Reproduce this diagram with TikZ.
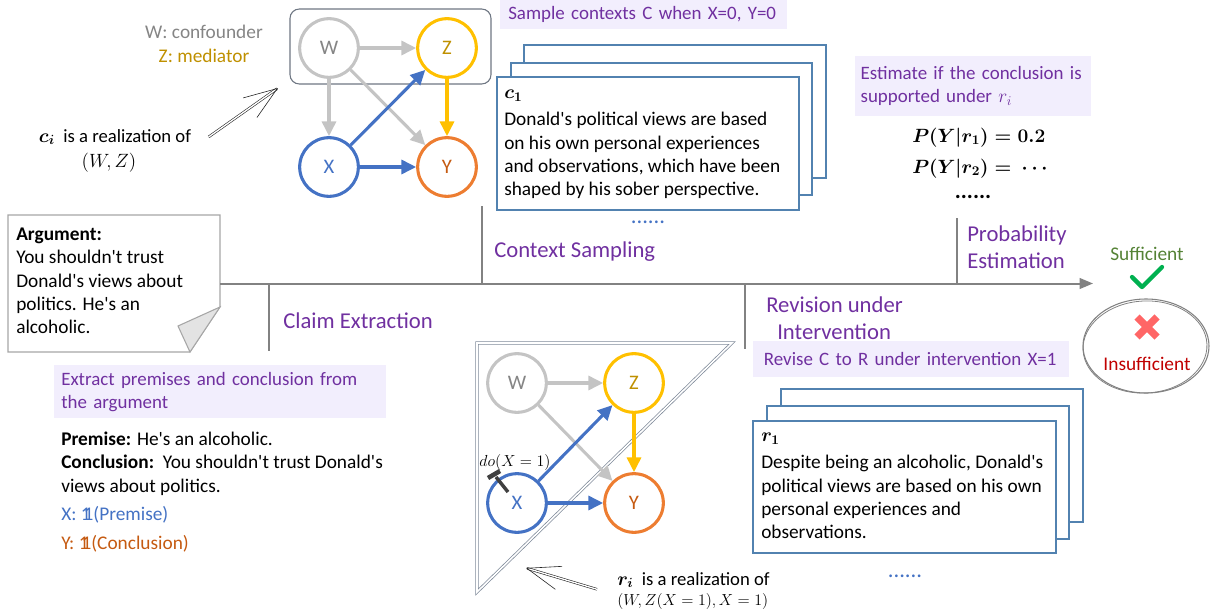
\documentclass[tikz,border=0pt]{standalone}
\usepackage{fontspec}
\setmainfont{Carlito}[Ligatures=TeXOff]
\usepackage{amsmath}
\usetikzlibrary{arrows.meta}

\newcommand{\indic}{\ensuremath{\mathrm{1}\mkern-6.6mu\mathrm{1}}}

\definecolor{stagepurple}{HTML}{7030A0}
\definecolor{lavender}{HTML}{F2EEFD}
\definecolor{nodegray}{HTML}{C4C4C4}
\definecolor{labelgray}{HTML}{858585}
\definecolor{gold}{HTML}{FFC000}
\definecolor{goldtext}{HTML}{BF9000}
\definecolor{xblue}{HTML}{4472C4}
\definecolor{yorange}{HTML}{ED7D31}
\definecolor{orangetext}{HTML}{C55A11}
\definecolor{cardblue}{HTML}{5282B0}
\definecolor{cardgray}{HTML}{A6A6A6}
\definecolor{foldgray}{HTML}{E3E3E3}
\definecolor{boxgray}{HTML}{6E7682}
\definecolor{linegray}{HTML}{828282}
\definecolor{sketchgray}{HTML}{7F8A99}
\definecolor{suffgreen}{HTML}{548235}
\definecolor{checkgreen}{HTML}{00B050}
\definecolor{insuffred}{HTML}{C00000}
\definecolor{crossred}{HTML}{FF6666}

\tikzset{
  var/.style={circle, draw, line width=2.3pt, minimum size=44pt, inner sep=0pt,
    font=\fontsize{15.5}{18}\selectfont},
  causal/.style={-{Triangle[length=11pt,width=10.5pt]}, line width=2.3pt},
  card/.style={draw=cardblue, line width=0.9pt, fill=white},
  body/.style={inner sep=0pt, align=left, font=\fontsize{14.5}{17.5}\selectfont},
  hint/.style={fill=lavender, text=stagepurple, inner xsep=4pt, inner ysep=0pt,
    align=left, font=\fontsize{14.2}{17.25}\selectfont},
  stage/.style={text=stagepurple, inner sep=0pt, align=left,
    font=\fontsize{17}{20}\selectfont},
  timeline/.style={draw=linegray, line width=1.5pt},
  sketch/.style={draw=black!85, double, double distance=1pt, line width=0.45pt,
    -{Straight Barb[length=25pt,width=18pt]}},
  sketchline/.style={draw=sketchgray, double, double distance=1.2pt, line width=0.55pt},
  dots/.style={inner sep=0pt, font=\fontsize{17}{20}\selectfont},
  hammer/.style={draw=black!75, line width=2.6pt},
}

\begin{document}
\begin{tikzpicture}[x=0.75pt,y=-0.75pt]
  \useasboundingbox (0,0) rectangle (1210,614);

  % causal graph of the context
  \node[anchor=base, text=labelgray, inner sep=0pt, font=\fontsize{14.5}{17}\selectfont] (wrole) at (204,38) {W: confounder};
  \node[anchor=base, text=goldtext, inner sep=0pt, font=\fontsize{14.5}{17}\selectfont] (zrole) at (204,62) {Z: mediator};
  \draw[boxgray, rounded corners=7pt, line width=0.8pt] (290,9) rectangle (491,84);
  \coordinate (wzbox) at (278,88);
  \node[var, draw=nodegray, text=labelgray] (w) at (329,48) {W};
  \node[var, draw=gold, text=goldtext] (z) at (447,48) {Z};
  \node[var, draw=xblue, text=xblue] (x) at (329,167) {X};
  \node[var, draw=yorange, text=orangetext] (y) at (447,167) {Y};
  \draw[causal, nodegray] (w) -- (z);
  \draw[causal, nodegray] (w) -- (x);
  \draw[causal, nodegray] (w) -- (y);
  \draw[causal, gold] (z) -- (y);
  \draw[causal, xblue] (x) -- (z);
  \draw[causal, xblue] (x) -- (y);

  \node[body, anchor=base, font=\fontsize{14}{17}\selectfont] (ci) at (115,142) {$\boldsymbol{c_i}$\ \ is a realization of};
  \node[body, anchor=base, font=\fontsize{14}{17}\selectfont] (ciwz) at (109,167) {$(W,Z)$};
  \draw[sketch] ([xshift=13pt]ci.east) -- (wzbox);

  % sampled contexts
  \node[hint, anchor=north west, inner xsep=6pt, text width=203.25pt, minimum height=21.75pt] (samplehint) at (500,0) {Sample contexts C when X=0, Y=0};
  \draw[card] (524,45) rectangle (826,178);
  \draw[card] (511,63) rectangle (812,195);
  \draw[card] (497,77) rectangle (799,210);
  \node[body, anchor=north west] (c1) at (504,82) {\strut$\boldsymbol{c_1}$\\[2.8pt]Donald's political views are based\\on his own personal experiences\\and observations, which have been\\shaped by his sober perspective.};
  \node[dots, text=xblue] (cdots) at (648,222) {......};

  % probability estimation
  \node[hint, anchor=north west, text width=169pt, minimum height=45pt] (estimatehint) at (855,56) {Estimate if the conclusion is\\supported under $r_i$};
  \node[anchor=base west, inner sep=0pt, font=\fontsize{13.8}{16}\selectfont] (p1) at (912,142) {$\boldsymbol{P(Y|r_1)=0.2}$};
  \node[anchor=base west, inner sep=0pt, font=\fontsize{13.8}{16}\selectfont] (p2) at (912,173) {$\boldsymbol{P(Y|r_2)=\ \cdots}$};
  \node[dots] (pdots) at (973,197) {\textbf{......}};

  % argument card
  \draw[cardgray, fill=white, line width=0.8pt] (8,215) -- (220,215) -- (220,307) -- (190,352) -- (8,352) -- cycle;
  \draw[cardgray, fill=foldgray, line width=0.8pt] (220,307) -- (178,326) -- (190,352) -- cycle;
  \node[body, anchor=north west] (arg) at (16,224) {\strut\textbf{Argument:}\\You shouldn't trust\\Donald's views about\\politics. He's an\\alcoholic.};

  % timeline
  \coordinate (start) at (220,283.5);
  \coordinate (goal) at (1093,283.5);
  \draw[timeline, -{Triangle[length=10pt,width=8pt]}] (start) -- (goal);
  \draw[timeline] (269,283.5) -- (269,351);
  \draw[timeline] (482,283.5) -- (482,206);
  \draw[timeline] (745,283.5) -- (745,349);
  \draw[timeline] (957,283.5) -- (957,218);
  \node[stage, anchor=base west] (claim) at (283,328) {Claim Extraction};
  \node[stage, anchor=base west] (context) at (494,257) {Context Sampling};
  \node[stage, anchor=north west] (revision) at (766,294) {\strut Revision under\\\hspace{8.25pt}Intervention};
  \node[stage, anchor=north west] (probability) at (967,223) {\strut Probability\\Estimation};

  % claim extraction
  \node[hint, anchor=north west, inner xsep=5.25pt, text width=238.5pt, minimum height=39.75pt] (extracthint) at (54,365) {Extract premises and conclusion from\\the argument};
  \node[body, anchor=north west] (claims) at (61,429) {\strut\textbf{Premise:} He's an alcoholic.\\\textbf{Conclusion:}\ \ You shouldn't trust Donald's\\views about politics.};
  \node[body, anchor=base west, text=xblue] (xdef) at (61,520) {X: \indic(Premise)};
  \node[body, anchor=base west, text=orangetext] (ydef) at (61,549) {Y: \indic(Conclusion)};

  % causal graph under intervention
  \draw[sketchline] (477,343) -- (732,343) -- (477,592) -- cycle;
  \node[var, draw=nodegray, text=labelgray] (w2) at (517,383) {W};
  \node[var, draw=gold, text=goldtext] (z2) at (634,383) {Z};
  \node[var, draw=xblue, text=xblue] (x2) at (517,503) {X};
  \node[var, draw=yorange, text=orangetext] (y2) at (634,503) {Y};
  \draw[causal, nodegray] (w2) -- (z2);
  \draw[causal, nodegray] (w2) -- (y2);
  \draw[causal, gold] (z2) -- (y2);
  \draw[causal, xblue] (x2) -- (z2);
  \draw[causal, xblue] (x2) -- (y2);
  \node[anchor=base, inner sep=0pt, font=\fontsize{11.5}{13}\selectfont] (do) at (515,466) {$do(X=1)$};
  \draw[hammer] (508,492) -- (496,477);
  \draw[hammer, line width=3.4pt] (488,478) -- (500,471);

  \node[body, anchor=base west, font=\fontsize{14}{17}\selectfont] (ri) at (617,585) {$\boldsymbol{r_i}$\ \ is a realization of};
  \node[body, anchor=base west, font=\fontsize{13}{16}\selectfont] (riwz) at (617,605) {$(W,Z(X=1),X=1)$};
  \coordinate (triangle) at (526,568);
  \draw[sketch] ([xshift=-15pt,yshift=-7pt]ri.west) -- (triangle);

  % revised contexts
  \node[hint, anchor=north west, inner xsep=8pt, text width=221pt, minimum height=27pt] (revisehint) at (753,341) {Revise C to R under intervention X=1};
  \draw[card] (781,389) rectangle (1083,522);
  \draw[card] (767,406) rectangle (1069,539);
  \draw[card] (753,421) rectangle (1056,553);
  \node[body, anchor=north west] (r1) at (761,425) {\strut$\boldsymbol{r_1}$\\[2.8pt]Despite being an alcoholic, Donald's\\political views are based on his own\\personal experiences and\\observations.};
  \node[dots, text=xblue] (rdots) at (905,576) {......};

  % verdict
  \node[anchor=base, inner sep=0pt, text=suffgreen, font=\fontsize{14.5}{17}\selectfont] (suff) at (1147,260) {Sufficient};
  \draw[checkgreen, line width=3.2pt, line cap=round, line join=round] (1132,277) -- (1142,287) -- (1162,267);
  \draw[linegray, line width=0.8pt] (1146,346) ellipse [x radius=63, y radius=47];
  \draw[linegray, line width=0.6pt, rotate around={3:(1145,347)}] (1145,347) ellipse [x radius=62, y radius=46];
  \draw[crossred, line width=5.5pt] (1137,317) -- (1157,337) (1157,317) -- (1137,337);
  \node[anchor=base, inner sep=0pt, text=insuffred, font=\fontsize{14.5}{17}\selectfont] (insuff) at (1147,370) {Insufficient};
\end{tikzpicture}
\end{document}
